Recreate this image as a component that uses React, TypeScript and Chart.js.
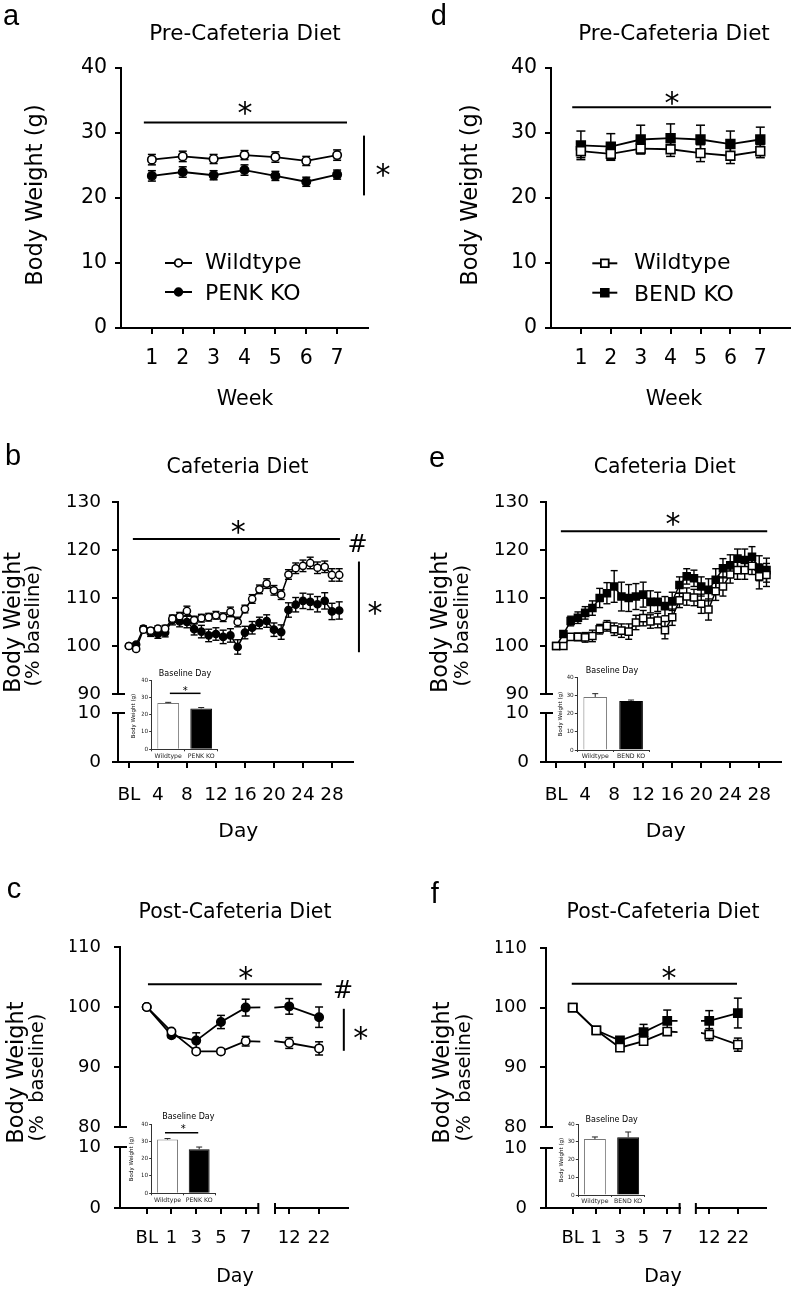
import React, { useEffect, useRef } from 'react';
import { Chart, registerables } from 'chart.js';

Chart.register(...registerables);

const SANS = '"DejaVu Sans", "Liberation Sans", sans-serif';
const ARIAL = '"Liberation Sans", Arial, sans-serif';

// ================= DATA =================
// Pre-cafeteria diet, body weight (g)
const weekLabels = ['1', '2', '3', '4', '5', '6', '7'];
const weeks = [1, 2, 3, 4, 5, 6, 7];
const penkPreWT = [25.9, 26.4, 26.0, 26.6, 26.3, 25.7, 26.6];
const penkPreWTErr = [0.8, 0.8, 0.7, 0.7, 0.8, 0.7, 0.8];
const penkPreKO = [23.4, 24.0, 23.5, 24.3, 23.4, 22.5, 23.6];
const penkPreKOErr = [0.8, 0.8, 0.7, 0.8, 0.7, 0.7, 0.7];
const bendPreWT = [27.2, 26.8, 27.6, 27.5, 26.9, 26.5, 27.2];
const bendPreWTErr = [1.0, 1.0, 0.8, 1.1, 1.3, 1.2, 1.0];
const bendPreKO = [28.1, 27.9, 29.0, 29.2, 29.0, 28.3, 29.0];
const bendPreKOErr = [2.2, 2.0, 2.2, 2.2, 2.2, 2.0, 1.9];

// Cafeteria diet, % baseline
const cafeDays = [0, 1, 2, 3, 4, 5, 6, 7, 8, 9, 10, 11, 12, 13, 14, 15, 16, 17, 18, 19, 20, 21, 22, 23, 24, 25, 26, 27, 28, 29];
const cafeTickValues = [0, 4, 8, 12, 16, 20, 24, 28];
const cafeTickLabels = ['BL', '4', '8', '12', '16', '20', '24', '28'];
const penkCafeWT = [100.0, 99.4, 103.4, 103.2, 103.6, 103.6, 105.7, 106.2, 107.3, 105.4, 105.8, 106.0, 106.4, 106.0, 107.1, 105.0, 107.7, 109.8, 111.8, 113.0, 111.6, 110.7, 114.9, 116.2, 116.7, 117.3, 116.3, 116.5, 114.8, 114.8];
const penkCafeWTErr = [0, 0.4, 0.6, 0.6, 0.6, 0.7, 0.7, 0.8, 1.0, 0.8, 0.8, 0.8, 0.8, 0.9, 1.0, 1.0, 0.8, 0.9, 0.9, 1.0, 1.0, 1.0, 1.0, 1.1, 1.2, 1.2, 1.2, 1.2, 1.3, 1.3];
const penkCafeKO = [100.0, 100.3, 103.6, 102.8, 102.5, 102.8, 105.4, 105.1, 105.0, 103.5, 103.0, 102.2, 102.5, 101.9, 102.2, 99.8, 102.8, 103.8, 104.8, 105.2, 103.4, 102.9, 107.5, 108.6, 109.4, 109.2, 108.7, 109.4, 107.2, 107.4];
const penkCafeKOErr = [0, 0.4, 0.6, 0.8, 0.9, 0.9, 1.0, 1.1, 1.2, 1.2, 1.3, 1.3, 1.3, 1.4, 1.4, 1.5, 1.3, 1.3, 1.2, 1.3, 1.4, 1.5, 1.5, 1.5, 1.6, 1.6, 1.6, 1.7, 1.7, 1.8];
const bendCafeWT = [100.0, 100.0, 101.9, 101.9, 101.8, 102.1, 103.5, 104.2, 103.5, 103.2, 103.0, 104.9, 105.8, 105.1, 105.3, 103.3, 106.0, 109.5, 110.3, 110.1, 108.8, 107.6, 111.4, 112.4, 114.9, 115.8, 115.8, 116.7, 114.5, 114.8];
const bendCafeWTErr = [0, 0.3, 0.6, 0.8, 1.0, 1.2, 1.0, 1.1, 1.3, 1.4, 1.6, 1.5, 1.6, 1.4, 1.5, 1.8, 1.7, 1.5, 1.8, 1.7, 2.0, 2.2, 1.9, 2.0, 1.8, 1.9, 1.9, 1.8, 2.6, 2.4];
const bendCafeKO = [100.0, 102.5, 105.2, 105.9, 106.9, 107.9, 110.0, 111.0, 112.4, 110.3, 110.0, 110.3, 110.7, 109.2, 109.2, 108.3, 109.3, 112.7, 114.5, 114.1, 112.4, 111.7, 113.8, 116.2, 116.8, 118.2, 117.9, 118.6, 116.2, 115.8];
const bendCafeKOErr = [0, 0.6, 1.0, 1.2, 1.3, 1.5, 2.0, 2.2, 3.3, 3.0, 2.8, 2.7, 2.6, 2.3, 2.0, 2.0, 1.9, 1.7, 1.6, 1.7, 2.0, 2.3, 2.3, 2.0, 2.2, 2.0, 2.3, 2.1, 2.6, 2.5];

// Post-cafeteria diet, % baseline
const postDayLabels = ['BL', '1', '3', '5', '7', '12', '22'];
const postDayPos = [-1, 1, 3, 5, 7, 12, 22];
const penkPostWT = [100.0, 95.9, 92.6, 92.6, 94.3, 94.0, 93.1];
const penkPostWTErr = [0, 0.3, 0.3, 0.4, 0.8, 0.9, 1.1];
const penkPostKO = [100.0, 95.3, 94.4, 97.5, 99.9, 100.1, 98.3];
const penkPostKOErr = [0, 0.4, 1.3, 1.1, 1.4, 1.3, 1.7];
const bendPostWT = [100.0, 96.2, 93.3, 94.4, 96.0, 95.5, 93.8];
const bendPostWTErr = [0, 0.3, 0.4, 0.4, 0.5, 1.0, 1.1];
const bendPostKO = [100.0, 96.2, 94.5, 95.9, 97.8, 97.8, 99.1];
const bendPostKOErr = [0, 0.3, 0.5, 1.3, 1.8, 1.7, 2.5];

// Insets: baseline-day body weight (g)
const insetPenkGroups = ['Wildtype', 'PENK KO'];
const insetBendGroups = ['Wildtype', 'BEND KO'];
const insetPenkCafe = [26.7, 23.6];
const insetPenkCafeErr = [0.4, 0.5];
const insetBendCafe = [29.2, 26.9];
const insetBendCafeErr = [1.8, 0.6];
const insetPenkPost = [31.0, 25.4];
const insetPenkPostErr = [0.6, 1.3];
const insetBendPost = [31.5, 32.5];
const insetBendPostErr = [1.2, 3.0];

// ================= HELPERS =================
type Box = { x: number; y: number; w: number; h: number };

function line(ctx: any, x0: number, y0: number, x1: number, y1: number) {
  ctx.beginPath();
  ctx.moveTo(x0, y0);
  ctx.lineTo(x1, y1);
  ctx.stroke();
}

function drawText(ctx: any, t: any, box: Box) {
  ctx.save();
  ctx.font = `${t.size}px ${t.family || SANS}`;
  ctx.fillStyle = '#000';
  ctx.textAlign = t.align || 'center';
  ctx.textBaseline = 'alphabetic';
  ctx.translate(t.x - box.x, t.y - box.y);
  if (t.rotate) ctx.rotate(-Math.PI / 2);
  let by = 0;
  if (!t.baseline) {
    const m = ctx.measureText(t.text);
    by = (m.actualBoundingBoxAscent - m.actualBoundingBoxDescent) / 2;
  }
  ctx.fillText(t.text, 0, by);
  ctx.restore();
}

function drawMarker(ctx: any, style: string, x: number, y: number, r: number, filled: boolean, bw: number) {
  ctx.beginPath();
  if (style === 'circle') ctx.arc(x, y, r, 0, Math.PI * 2);
  else {
    const s = r * Math.SQRT1_2;
    ctx.rect(x - s, y - s, 2 * s, 2 * s);
  }
  ctx.fillStyle = filled ? '#000' : '#fff';
  ctx.fill();
  ctx.lineWidth = bw;
  ctx.strokeStyle = '#000';
  ctx.stroke();
}

function drawErrorBars(chart: any, cap: number, width: number, upOnly: boolean, color: string) {
  const ctx = chart.ctx;
  ctx.save();
  ctx.strokeStyle = color;
  ctx.lineWidth = width;
  const n = chart.data.datasets.length;
  for (let i = n - 1; i >= 0; i--) {
    const ds = chart.data.datasets[i];
    const errs = ds.errorBars;
    if (!errs) continue;
    const meta = chart.getDatasetMeta(i);
    const ys = chart.scales[meta.yAxisID];
    meta.data.forEach((pt: any, j: number) => {
      const e = errs[j];
      if (e == null || e === 0 || pt == null || !isFinite(pt.x)) return;
      const raw = ds.data[j];
      const v = typeof raw === 'number' ? raw : raw.y;
      const yt = ys.getPixelForValue(v + e);
      const yb = upOnly ? ys.getPixelForValue(v) : ys.getPixelForValue(v - e);
      line(ctx, pt.x, yt, pt.x, yb);
      line(ctx, pt.x - cap, yt, pt.x + cap, yt);
      if (!upOnly) line(ctx, pt.x - cap, yb, pt.x + cap, yb);
    });
  }
  ctx.restore();
}

function decorPlugin(d: any, box: Box) {
  return {
    id: 'decor',
    beforeDatasetsDraw(chart: any) {
      drawErrorBars(chart, d.errCap || 4, d.errWidth || 1.5, false, '#000');
    },
    afterDraw(chart: any) {
      const ctx = chart.ctx;
      const sc = chart.scales;
      ctx.save();
      ctx.strokeStyle = '#000';
      ctx.lineWidth = 2;
      (d.hlines || []).forEach((h: any) => {
        const y = sc[h.yAxis].getPixelForValue(h.y);
        line(ctx, sc[h.x0Axis].getPixelForValue(h.x0), y, sc[h.x1Axis].getPixelForValue(h.x1), y);
      });
      (d.vlines || []).forEach((v: any) => {
        const x = sc[v.xAxis].getPixelForValue(v.x);
        line(ctx, x, sc[v.yAxis].getPixelForValue(v.y0), x, sc[v.yAxis].getPixelForValue(v.y1));
      });
      (d.yBreaks || []).forEach((b: any) => {
        const s = sc[b.axis];
        const y = s.getPixelForValue(b.value);
        line(ctx, s.right - 1, y, s.right + 7, y);
      });
      (d.xBreaks || []).forEach((b: any) => {
        const s = sc[b.axis];
        const x = b.side === 'right' ? s.right : s.left;
        line(ctx, x, s.top - 5, x, s.top + 6);
      });
      if (d.legend) {
        const L = d.legend;
        L.items.forEach((it: any) => {
          const y = it.y - box.y;
          ctx.lineWidth = 2;
          ctx.strokeStyle = '#000';
          line(ctx, L.x0 - box.x, y, L.x1 - box.x, y);
          drawMarker(ctx, L.style, (L.x0 + L.x1) / 2 - box.x, y, L.r, it.filled, 1.8);
          drawText(ctx, { text: it.text, x: L.tx, y: it.y, size: L.size, align: 'left' }, box);
        });
      }
      (d.texts || []).forEach((t: any) => drawText(ctx, t, box));
      ctx.restore();
    },
  };
}

function buildLinePanel(p: any) {
  const YW = 50;
  const XH = 50;
  const { box, area } = p;
  const scales: any = {};
  const ny = p.yAxes.length;
  const nx = p.xAxes.length;
  const tickFont = { family: SANS, size: p.tickSize };
  const grid = { display: true, drawOnChartArea: false, drawTicks: true, tickLength: 6, color: '#000', lineWidth: 2 };
  const border = { display: true, color: '#000', width: 2 };
  p.xAxes.forEach((a: any, i: number) => {
    const base: any = {
      type: 'linear', axis: 'x', position: 'bottom', weight: i, clip: false,
      afterFit: (s: any) => { s.height = XH; },
    };
    if (nx > 1) { base.stack = 'xs'; base.stackWeight = a.right - a.left; }
    if (a.gap) {
      scales[a.id] = { ...base, min: 0, max: 1, ticks: { display: false }, grid: { display: false }, border: { display: false } };
    } else {
      scales[a.id] = {
        ...base, min: a.min, max: a.max,
        afterBuildTicks: (s: any) => { s.ticks = a.ticks.map((v: number) => ({ value: v })); },
        ticks: {
          autoSkip: false, maxRotation: 0, minRotation: 0, padding: p.xTickPad, color: '#000', font: tickFont,
          callback: (v: number) => { const k = a.ticks.indexOf(v); return k >= 0 ? a.labels[k] : ''; },
        },
        grid, border,
      };
    }
  });
  p.yAxes.forEach((a: any, i: number) => {
    const base: any = {
      type: 'linear', axis: 'y', position: 'left', weight: ny - i, clip: false,
      afterFit: (s: any) => { s.width = YW; },
    };
    if (ny > 1) { base.stack = 'ys'; base.stackWeight = a.bottom - a.top; }
    if (a.gap) {
      scales[a.id] = { ...base, min: 0, max: 1, ticks: { display: false }, grid: { display: false }, border: { display: false } };
    } else {
      scales[a.id] = {
        ...base, min: a.min, max: a.max,
        ticks: { stepSize: a.step, padding: p.yTickPad, color: '#000', font: tickFont },
        grid, border,
      };
    }
  });
  return {
    type: 'line',
    data: { datasets: p.datasets },
    options: {
      responsive: false, animation: false, devicePixelRatio: 1, events: [],
      layout: {
        padding: {
          left: area.l - box.x - YW,
          top: area.t - box.y,
          right: box.x + box.w - area.r,
          bottom: box.y + box.h - area.b - XH,
        },
      },
      plugins: { legend: { display: false }, tooltip: { enabled: false }, title: { display: false } },
      scales,
    },
    plugins: [decorPlugin(p.decor, box)],
  };
}

function series(label: string, xs: number[], ys: number[], errs: number[], o: any) {
  return {
    label,
    data: xs.map((x, i) => ({ x, y: ys[i] })),
    errorBars: errs,
    borderColor: '#000', borderWidth: o.lw || 1.8,
    pointStyle: o.style, pointRadius: o.r, pointBorderWidth: o.pbw || 1.6,
    pointBackgroundColor: o.open ? '#fff' : '#000', pointBorderColor: '#000',
    tension: 0, fill: false, xAxisID: o.xAxis || 'x', yAxisID: 'y', clip: 20,
  };
}

// Segment of the post-diet series on a broken x axis
function postSegment(label: string, ys: number[], errs: number[], part: number, o: any, geo: any) {
  const idx = part === 1 ? [0, 1, 2, 3, 4, 5] : [4, 5, 6];
  const stub = part === 1 ? 5 : 4;
  return {
    label,
    data: idx.map((i) => ({ x: postDayPos[i], y: ys[i] })),
    errorBars: idx.map((i) => (i === stub ? null : errs[i])),
    borderColor: '#000', borderWidth: o.lw || 1.8,
    pointStyle: o.style,
    pointRadius: idx.map((i) => (i === stub ? 0 : o.r)),
    pointBorderWidth: 1.6,
    pointBackgroundColor: o.open ? '#fff' : '#000', pointBorderColor: '#000',
    tension: 0, fill: false, xAxisID: part === 1 ? 'x1' : 'x2', yAxisID: 'y',
    clip: part === 1
      ? { left: 30, top: 30, bottom: 30, right: -(geo.areaR - geo.seg1R - 2) }
      : { left: -(geo.seg2L - 2 - geo.areaL), top: 30, bottom: 30, right: 30 },
  };
}

// ================= PANEL SPECS =================
const boxA: Box = { x: 0, y: 0, w: 399, h: 420 };
const boxD: Box = { x: 399, y: 0, w: 399, h: 420 };
const boxB: Box = { x: 0, y: 420, w: 399, h: 430 };
const boxE: Box = { x: 399, y: 420, w: 399, h: 430 };
const boxC: Box = { x: 0, y: 850, w: 399, h: 445 };
const boxF: Box = { x: 399, y: 850, w: 399, h: 445 };

function panelA() {
  return buildLinePanel({
    box: boxA, area: { l: 121, t: 68, r: 368, b: 328 }, tickSize: 20.5, xTickPad: 12, yTickPad: 8,
    xAxes: [{ id: 'x', min: 0, max: 8, left: 121, right: 368, ticks: weeks, labels: weekLabels }],
    yAxes: [{ id: 'y', min: 0, max: 40, step: 10, top: 68, bottom: 328 }],
    datasets: [
      series('Wildtype', weeks, penkPreWT, penkPreWTErr, { style: 'circle', r: 4.2, open: true }),
      series('PENK KO', weeks, penkPreKO, penkPreKOErr, { style: 'circle', r: 4.2, open: false }),
    ],
    decor: {
      errCap: 4,
      texts: [
        { text: 'a', x: 3, y: 25, size: 29, family: ARIAL, align: 'left', baseline: true },
        { text: 'Pre-Cafeteria Diet', x: 245, y: 31.7, size: 21.5 },
        { text: 'Week', x: 245, y: 396.7, size: 20.7 },
        { text: 'Body Weight (g)', x: 35, y: 195, size: 22.5, rotate: true },
        { text: '*', x: 245, y: 108.3, size: 30 },
        { text: '*', x: 383, y: 170, size: 30 },
      ],
      hlines: [{ y: 31.6, yAxis: 'y', x0: 0.74, x0Axis: 'x', x1: 7.32, x1Axis: 'x' }],
      vlines: [{ x: 7.87, xAxis: 'x', y0: 29.6, y1: 20.4, yAxis: 'y' }],
      legend: {
        x0: 165, x1: 192, tx: 205, style: 'circle', r: 3.8, size: 22,
        items: [{ text: 'Wildtype', y: 263, filled: false }, { text: 'PENK KO', y: 292, filled: true }],
      },
    },
  });
}

function panelD() {
  return buildLinePanel({
    box: boxD, area: { l: 551, t: 68, r: 797, b: 328 }, tickSize: 20.5, xTickPad: 12, yTickPad: 8,
    xAxes: [{ id: 'x', min: 0, max: 8, left: 551, right: 797, ticks: weeks, labels: weekLabels }],
    yAxes: [{ id: 'y', min: 0, max: 40, step: 10, top: 68, bottom: 328 }],
    datasets: [
      series('Wildtype', weeks, bendPreWT, bendPreWTErr, { style: 'rect', r: 6.2, open: true }),
      series('BEND KO', weeks, bendPreKO, bendPreKOErr, { style: 'rect', r: 6.2, open: false }),
    ],
    decor: {
      errCap: 4.5,
      texts: [
        { text: 'd', x: 430.7, y: 25, size: 29, family: ARIAL, align: 'left', baseline: true },
        { text: 'Pre-Cafeteria Diet', x: 674, y: 31.7, size: 21.5 },
        { text: 'Week', x: 674, y: 396.5, size: 20.7 },
        { text: 'Body Weight (g)', x: 470.7, y: 195, size: 22.5, rotate: true },
        { text: '*', x: 672, y: 97.5, size: 30 },
      ],
      hlines: [{ y: 33.95, yAxis: 'y', x0: 0.71, x0Axis: 'x', x1: 7.36, x1Axis: 'x' }],
      legend: {
        x0: 592.3, x1: 617.3, tx: 634, style: 'rect', r: 5.5, size: 22,
        items: [{ text: 'Wildtype', y: 263.3, filled: false }, { text: 'BEND KO', y: 292.7, filled: true }],
      },
    },
  });
}

const cafeYAxes = [
  { id: 'y', min: 90, max: 130, step: 10, top: 502, bottom: 694 },
  { id: 'ygap', gap: true, top: 694, bottom: 713 },
  { id: 'y0', min: 0, max: 10, step: 10, top: 713, bottom: 762 },
];

function panelB() {
  return buildLinePanel({
    box: boxB, area: { l: 118, t: 502, r: 353, b: 762 }, tickSize: 18.5, xTickPad: 16, yTickPad: 11,
    xAxes: [{ id: 'x', min: -1.5, max: 30.9, left: 118, right: 353, ticks: cafeTickValues, labels: cafeTickLabels }],
    yAxes: cafeYAxes,
    datasets: [
      series('Wildtype', cafeDays, penkCafeWT, penkCafeWTErr, { style: 'circle', r: 3.6, open: true, lw: 1.5, pbw: 1.5 }),
      series('PENK KO', cafeDays, penkCafeKO, penkCafeKOErr, { style: 'circle', r: 3.6, open: false, lw: 1.5, pbw: 1.5 }),
    ],
    decor: {
      errCap: 3.5, errWidth: 1.4,
      texts: [
        { text: 'b', x: 5, y: 465, size: 29, family: ARIAL, align: 'left', baseline: true },
        { text: 'Cafeteria Diet', x: 237.5, y: 465, size: 20.4 },
        { text: 'Day', x: 238.3, y: 831.7, size: 20.3 },
        { text: 'Body Weight', x: 13.3, y: 622.5, size: 22.3, rotate: true },
        { text: '(% baseline)', x: 33.3, y: 625.8, size: 19.5, rotate: true },
        { text: '*', x: 238.3, y: 526.7, size: 30 },
        { text: '#', x: 357.5, y: 542.5, size: 24 },
        { text: '*', x: 375, y: 608.3, size: 30 },
      ],
      hlines: [{ y: 122.3, yAxis: 'y', x0: 0.55, x0Axis: 'x', x1: 29.1, x1Axis: 'x' }],
      vlines: [{ x: 31.72, xAxis: 'x', y0: 117.6, y1: 98.7, yAxis: 'y' }],
      yBreaks: [{ axis: 'y', value: 90 }, { axis: 'y0', value: 10 }],
    },
  });
}

function panelE() {
  return buildLinePanel({
    box: boxE, area: { l: 546, t: 502, r: 781, b: 762 }, tickSize: 18.5, xTickPad: 16, yTickPad: 11,
    xAxes: [{ id: 'x', min: -1.4, max: 31, left: 546, right: 781, ticks: cafeTickValues, labels: cafeTickLabels }],
    yAxes: cafeYAxes,
    datasets: [
      series('Wildtype', cafeDays, bendCafeWT, bendCafeWTErr, { style: 'rect', r: 5, open: true, lw: 1.5, pbw: 1.5 }),
      series('BEND KO', cafeDays, bendCafeKO, bendCafeKOErr, { style: 'rect', r: 5, open: false, lw: 1.5, pbw: 1.5 }),
    ],
    decor: {
      errCap: 3.5, errWidth: 1.4,
      texts: [
        { text: 'e', x: 429, y: 466.7, size: 29, family: ARIAL, align: 'left', baseline: true },
        { text: 'Cafeteria Diet', x: 664.7, y: 465, size: 20.4 },
        { text: 'Day', x: 665.7, y: 831.7, size: 20.3 },
        { text: 'Body Weight', x: 440.7, y: 622.5, size: 22.3, rotate: true },
        { text: '(% baseline)', x: 462.3, y: 625.8, size: 19.5, rotate: true },
        { text: '*', x: 673, y: 518.5, size: 30 },
      ],
      hlines: [{ y: 123.9, yAxis: 'y', x0: 0.65, x0Axis: 'x', x1: 29.1, x1Axis: 'x' }],
      yBreaks: [{ axis: 'y', value: 90 }, { axis: 'y0', value: 10 }],
    },
  });
}

function panelC() {
  const geo = { areaL: 120, areaR: 348, seg1R: 258.3, seg2L: 275 };
  const circOpen = { style: 'circle', r: 4.2, open: true };
  const circFill = { style: 'circle', r: 4.2, open: false };
  return buildLinePanel({
    box: boxC, area: { l: 120, t: 947, r: 348, b: 1208 }, tickSize: 18, xTickPad: 14, yTickPad: 13,
    xAxes: [
      { id: 'x1', min: -3.16, max: 8.02, left: 120, right: 258.3, ticks: postDayPos.slice(0, 5), labels: postDayLabels.slice(0, 5) },
      { id: 'xgap', gap: true, left: 258.3, right: 275 },
      { id: 'x2', min: 7.23, max: 31.7, left: 275, right: 348, ticks: postDayPos.slice(5), labels: postDayLabels.slice(5) },
    ],
    yAxes: [
      { id: 'y', min: 80, max: 110, step: 10, top: 947, bottom: 1127 },
      { id: 'ygap', gap: true, top: 1127, bottom: 1147 },
      { id: 'y0', min: 0, max: 10, step: 10, top: 1147, bottom: 1208 },
    ],
    datasets: [
      postSegment('Wildtype', penkPostWT, penkPostWTErr, 1, circOpen, geo),
      postSegment('Wildtype', penkPostWT, penkPostWTErr, 2, circOpen, geo),
      postSegment('PENK KO', penkPostKO, penkPostKOErr, 1, circFill, geo),
      postSegment('PENK KO', penkPostKO, penkPostKOErr, 2, circFill, geo),
    ],
    decor: {
      errCap: 4,
      texts: [
        { text: 'c', x: 6.7, y: 898.3, size: 29, family: ARIAL, align: 'left', baseline: true },
        { text: 'Post-Cafeteria Diet', x: 235, y: 910, size: 20.5 },
        { text: 'Day', x: 235, y: 1276.7, size: 19 },
        { text: 'Body Weight', x: 16.7, y: 1072.5, size: 22.5, rotate: true },
        { text: '(%  baseline)', x: 36.7, y: 1077.5, size: 19.5, rotate: true },
        { text: '*', x: 245.8, y: 972.5, size: 30 },
        { text: '#', x: 343, y: 989, size: 24 },
        { text: '*', x: 360.8, y: 1033.3, size: 30 },
      ],
      hlines: [{ y: 103.8, yAxis: 'y', x0: -0.9, x0Axis: 'x1', x1: 22.9, x1Axis: 'x2' }],
      vlines: [{ x: 30.3, xAxis: 'x2', y0: 99.7, y1: 92.7, yAxis: 'y' }],
      yBreaks: [{ axis: 'y', value: 80 }, { axis: 'y0', value: 10 }],
      xBreaks: [{ axis: 'x1', side: 'right' }, { axis: 'x2', side: 'left' }],
    },
  });
}

function panelF() {
  const geo = { areaL: 546, areaR: 776, seg1R: 686, seg2L: 703 };
  const sqOpen = { style: 'rect', r: 5.8, open: true };
  const sqFill = { style: 'rect', r: 5.8, open: false };
  return buildLinePanel({
    box: boxF, area: { l: 546, t: 948, r: 776, b: 1208 }, tickSize: 18, xTickPad: 14, yTickPad: 13,
    xAxes: [
      { id: 'x1', min: -3.26, max: 8.05, left: 546, right: 686, ticks: postDayPos.slice(0, 5), labels: postDayLabels.slice(0, 5) },
      { id: 'xgap', gap: true, left: 686, right: 703 },
      { id: 'x2', min: 7.33, max: 31.67, left: 703, right: 776, ticks: postDayPos.slice(5), labels: postDayLabels.slice(5) },
    ],
    yAxes: [
      { id: 'y', min: 80, max: 110, step: 10, top: 948, bottom: 1127 },
      { id: 'ygap', gap: true, top: 1127, bottom: 1148 },
      { id: 'y0', min: 0, max: 10, step: 10, top: 1148, bottom: 1208 },
    ],
    datasets: [
      postSegment('Wildtype', bendPostWT, bendPostWTErr, 1, sqOpen, geo),
      postSegment('Wildtype', bendPostWT, bendPostWTErr, 2, sqOpen, geo),
      postSegment('BEND KO', bendPostKO, bendPostKOErr, 1, sqFill, geo),
      postSegment('BEND KO', bendPostKO, bendPostKOErr, 2, sqFill, geo),
    ],
    decor: {
      errCap: 4,
      texts: [
        { text: 'f', x: 430.7, y: 903.3, size: 29, family: ARIAL, align: 'left', baseline: true },
        { text: 'Post-Cafeteria Diet', x: 663, y: 910, size: 20.5 },
        { text: 'Day', x: 663, y: 1277, size: 19 },
        { text: 'Body Weight', x: 442.3, y: 1072.5, size: 22.5, rotate: true },
        { text: '(%  baseline)', x: 464, y: 1077.5, size: 19.5, rotate: true },
        { text: '*', x: 669, y: 972.5, size: 30 },
      ],
      hlines: [{ y: 104, yAxis: 'y', x0: -1.08, x0Axis: 'x1', x1: 21.7, x1Axis: 'x2' }],
      yBreaks: [{ axis: 'y', value: 80 }, { axis: 'y0', value: 10 }],
      xBreaks: [{ axis: 'x1', side: 'right' }, { axis: 'x2', side: 'left' }],
    },
  });
}

// ================= INSETS =================
function insetPlugin(s: any) {
  return {
    id: 'insetDecor',
    afterDatasetsDraw(chart: any) {
      drawErrorBars(chart, 3, 1, true, '#222');
    },
    afterDraw(chart: any) {
      const ctx = chart.ctx;
      const box = s.box;
      ctx.save();
      drawText(ctx, { text: 'Baseline Day', x: s.titleX, y: s.titleY, size: 8 }, box);
      drawText(ctx, { text: 'Body Weight (g)', x: s.yTitleX, y: s.yTitleY, size: 5.5, rotate: true }, box);
      if (s.sig) {
        const xs = chart.scales.x;
        const ys = chart.scales.y;
        const y = ys.getPixelForValue(s.sig.y);
        ctx.strokeStyle = '#000';
        ctx.lineWidth = 1.5;
        line(ctx, xs.getPixelForValue(s.sig.i0), y, xs.getPixelForValue(s.sig.i1), y);
        drawText(ctx, { text: '*', x: s.sig.starX, y: s.sig.starY, size: 10 }, box);
      }
      ctx.restore();
    },
  };
}

function buildInset(s: any) {
  const YW = 10;
  const XH = 12;
  const { box, area } = s;
  return {
    type: 'bar',
    data: {
      labels: s.groups,
      datasets: [{
        data: s.values, errorBars: s.errors,
        backgroundColor: ['#fff', '#000'], borderColor: ['#777', '#000'], borderWidth: 1,
        barPercentage: 0.66, categoryPercentage: 1,
      }],
    },
    options: {
      responsive: false, animation: false, devicePixelRatio: 1, events: [],
      layout: {
        padding: {
          left: area.l - box.x - YW, top: area.t - box.y,
          right: box.x + box.w - area.r, bottom: box.y + box.h - area.b - XH,
        },
      },
      plugins: { legend: { display: false }, tooltip: { enabled: false } },
      scales: {
        x: {
          type: 'category', afterFit: (sc: any) => { sc.height = XH; },
          ticks: { font: { family: SANS, size: 6.2 }, color: '#222', padding: 1, maxRotation: 0, minRotation: 0, autoSkip: false },
          grid: { display: true, drawOnChartArea: false, tickLength: 2, color: '#333', lineWidth: 1 },
          border: { display: true, color: '#333', width: 1 },
        },
        y: {
          type: 'linear', min: 0, max: 40, afterFit: (sc: any) => { sc.width = YW; },
          ticks: { stepSize: 10, font: { family: SANS, size: 5.8 }, color: '#222', padding: 1 },
          grid: { display: true, drawOnChartArea: false, tickLength: 2.5, color: '#333', lineWidth: 1 },
          border: { display: true, color: '#333', width: 1 },
        },
      },
    },
    plugins: [insetPlugin(s)],
  };
}

const insetB = {
  box: { x: 118, y: 660, w: 112, h: 106 }, area: { l: 151.7, t: 680, r: 217.7, b: 749.3 },
  groups: insetPenkGroups, values: insetPenkCafe, errors: insetPenkCafeErr,
  titleX: 185, titleY: 673, yTitleX: 133, yTitleY: 716,
  sig: { y: 32.3, i0: 0.05, i1: 0.98, starX: 185.3, starY: 688.7 },
};
const insetE = {
  box: { x: 545, y: 658, w: 112, h: 106 }, area: { l: 577.3, t: 677.3, r: 649, b: 750 },
  groups: insetBendGroups, values: insetBendCafe, errors: insetBendCafeErr,
  titleX: 612, titleY: 670, yTitleX: 560.7, yTitleY: 714,
};
const insetC = {
  box: { x: 118, y: 1104, w: 112, h: 106 }, area: { l: 151.7, t: 1124, r: 215, b: 1193.3 },
  groups: insetPenkGroups, values: insetPenkPost, errors: insetPenkPostErr,
  titleX: 188.3, titleY: 1116.7, yTitleX: 131.7, yTitleY: 1159,
  sig: { y: 35.0, i0: -0.08, i1: 0.97, starX: 183.3, starY: 1126.7 },
};
const insetF = {
  box: { x: 545, y: 1104, w: 112, h: 106 }, area: { l: 578.3, t: 1124, r: 644.8, b: 1195 },
  groups: insetBendGroups, values: insetBendPost, errors: insetBendPostErr,
  titleX: 611.7, titleY: 1119.3, yTitleX: 561.7, yTitleY: 1160,
};

// ================= COMPONENTS =================
function ChartCanvas({ box, build }: { box: Box; build: () => any }) {
  const ref = useRef<HTMLCanvasElement | null>(null);
  useEffect(() => {
    if (!ref.current) return;
    const chart = new Chart(ref.current, build());
    return () => chart.destroy();
  }, []);
  return (
    <canvas
      ref={ref}
      width={box.w}
      height={box.h}
      style={{ position: 'absolute', left: box.x, top: box.y, width: box.w, height: box.h }}
    />
  );
}

export default function App() {
  return (
    <div style={{ position: 'absolute', left: 0, top: 0, width: 798, height: 1295, background: '#fff', overflow: 'hidden' }}>
      <ChartCanvas box={boxA} build={panelA} />
      <ChartCanvas box={boxD} build={panelD} />
      <ChartCanvas box={boxB} build={panelB} />
      <ChartCanvas box={boxE} build={panelE} />
      <ChartCanvas box={boxC} build={panelC} />
      <ChartCanvas box={boxF} build={panelF} />
      <ChartCanvas box={insetB.box} build={() => buildInset(insetB)} />
      <ChartCanvas box={insetE.box} build={() => buildInset(insetE)} />
      <ChartCanvas box={insetC.box} build={() => buildInset(insetC)} />
      <ChartCanvas box={insetF.box} build={() => buildInset(insetF)} />
    </div>
  );
}
